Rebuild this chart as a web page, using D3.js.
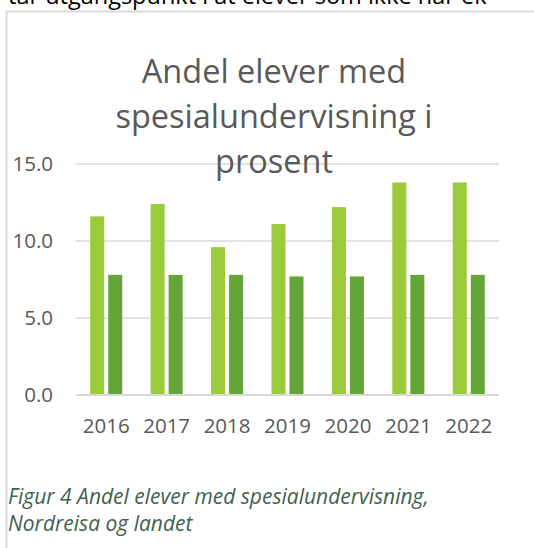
<!DOCTYPE html>
<html>
<head>
<meta charset="utf-8">
<script src="https://d3js.org/d3.v7.min.js"></script>
<style>
body { margin: 0; background: #fff; overflow: hidden; }
text { font-family: "Open Sans", sans-serif; }
</style>
</head>
<body>
<div id="chart"></div>
<script>
// data
var years = ["2016", "2017", "2018", "2019", "2020", "2021", "2022"];
var series = ["Nordreisa", "Landet"];
var nordreisa = [11.6, 12.4, 9.6, 11.1, 12.2, 13.8, 13.8];
var landet = [7.8, 7.8, 7.8, 7.7, 7.7, 7.8, 7.8];
var yTicks = [0, 5, 10, 15];
var titleLines = ["Andel elever med", "spesialundervisning i", "prosent"];
var captionLines = ["Figur 4 Andel elever med spesialundervisning,", "Nordreisa og landet"];
var colors = ["#9BCA3B", "#63A537"];

var width = 534, height = 548;

var svg = d3.select("#chart").append("svg")
	.attr("width", width)
	.attr("height", height);

// body text cut off at the top of the page
svg.append("text")
	.attr("x", 8)
	.attr("y", 4)
	.attr("font-size", "23.5px")
	.attr("fill", "#000")
	.text("tar utgangspunkt i at elever som ikke har ek");

// chart frame (runs past the right edge)
svg.append("path")
	.attr("d", "M6.5," + height + " L6.5,11.5 L" + (width + 5) + ",11.5")
	.attr("fill", "none")
	.attr("stroke", "#D9D9D9")
	.attr("stroke-width", 2);

var x0 = d3.scaleBand()
	.domain(years)
	.range([76, 499]);

var bw = x0.bandwidth();
var x1 = d3.scaleBand()
	.domain(series)
	.range([bw / 2 - 16, bw / 2 + 16])
	.paddingInner(0.222);

var y = d3.scaleLinear()
	.domain([0, 15])
	.range([395, 164]);

// grid lines
svg.append("g").selectAll("line")
	.data(yTicks)
	.enter()
	.append("line")
	.attr("x1", 76)
	.attr("x2", 499)
	.attr("y1", function(d) { return y(d); })
	.attr("y2", function(d) { return y(d); })
	.attr("stroke", "#D9D9D9")
	.attr("stroke-width", function(d) { return d == 0 ? 2 : 1.5; });

// y labels
svg.append("g").selectAll("text")
	.data(yTicks)
	.enter()
	.append("text")
	.attr("x", 53)
	.attr("y", function(d) { return y(d); })
	.attr("dy", "0.36em")
	.attr("text-anchor", "end")
	.attr("font-size", "20.5px")
	.attr("fill", "#595959")
	.text(function(d) { return d3.format(".1f")(d); });

// bars
var rows = years.map(function(yr, i) {
	return { year: yr, values: [nordreisa[i], landet[i]] };
});

var groups = svg.append("g").selectAll("g")
	.data(rows)
	.enter()
	.append("g")
	.attr("transform", function(d) { return "translate(" + x0(d.year) + ",0)"; });

groups.selectAll("rect")
	.data(function(d) {
		return series.map(function(s, j) { return { key: s, value: d.values[j], idx: j }; });
	})
	.enter()
	.append("rect")
	.attr("x", function(d) { return x1(d.key); })
	.attr("width", x1.bandwidth())
	.attr("y", function(d) { return y(d.value); })
	.attr("height", function(d) { return y(0) - y(d.value) - 1; })
	.attr("fill", function(d) { return colors[d.idx]; });

// x labels
svg.append("g").selectAll("text")
	.data(years)
	.enter()
	.append("text")
	.attr("x", function(d) { return x0(d) + bw / 2; })
	.attr("y", 433)
	.attr("text-anchor", "middle")
	.attr("font-size", "20.5px")
	.attr("fill", "#595959")
	.text(function(d) { return d; });

// title
svg.append("g").selectAll("text")
	.data(titleLines)
	.enter()
	.append("text")
	.attr("x", 274)
	.attr("y", function(d, i) { return 83 + i * 45; })
	.attr("text-anchor", "middle")
	.attr("font-size", "32.5px")
	.attr("fill", "#595959")
	.text(function(d) { return d; });

// caption
svg.append("g").selectAll("text")
	.data(captionLines)
	.enter()
	.append("text")
	.attr("x", 8)
	.attr("y", function(d, i) { return 504 + i * 27; })
	.attr("font-size", "21px")
	.attr("font-style", "italic")
	.attr("fill", "#44604F")
	.text(function(d) { return d; });
</script>
</body>
</html>
